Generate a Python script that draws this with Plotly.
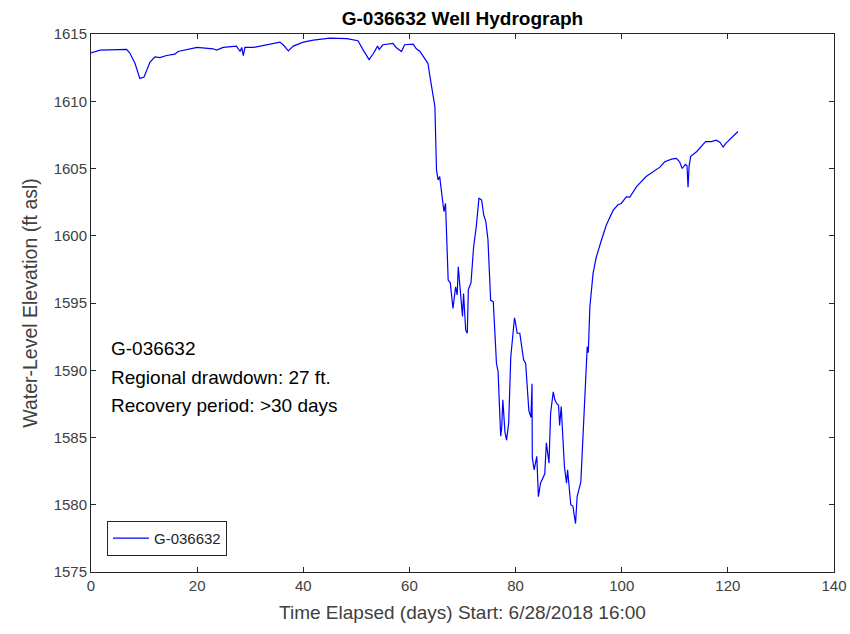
import plotly.graph_objects as go

days = [0, 1.7, 6.7, 7.3, 8.3, 9.2, 10.0, 11.1, 12.05, 13.0, 14.25, 15.8, 16.4, 18.6, 20.0,
        23.0, 23.7, 24.9, 27.4, 28.1, 28.4, 28.7, 29.0, 30.6, 33.1, 35.0, 35.6, 36.2, 37.2,
        38.1, 40.0, 41.9, 45.0, 48.2, 50.3, 51.3, 52.4, 53.2, 54.0, 54.3, 55.0, 56.9, 57.5,
        58.5, 59.1, 60.7, 61.3, 62.0, 62.6, 63.5, 63.8, 64.2, 64.8, 65.1, 65.4, 65.7, 66.3,
        66.5, 66.8, 67.3, 67.7, 68.2, 68.7, 69.0, 69.2, 69.5, 70.0, 70.2, 70.6, 70.9, 71.1,
        71.6, 72.1, 72.6, 73.1, 73.6, 74.0, 74.4, 74.8, 75.3, 75.8, 76.4, 76.7, 77.2, 77.4,
        77.6, 78.0, 78.3, 78.7, 79.1, 79.4, 79.8, 80.0, 80.3, 80.8, 81.1, 81.5, 81.9, 82.5,
        82.9, 83.1, 83.15, 83.5, 84.0, 84.3, 84.7, 85.2, 85.5, 85.8, 86.3, 86.6, 87.1, 87.4,
        87.8, 88.1, 88.3, 88.6, 89.2, 89.6, 89.8, 90.4, 90.8, 91.3, 91.6, 92.3, 92.7, 93.2,
        93.5, 93.7, 94.0, 94.6, 95.2, 96.2, 97.1, 98.4, 99.3, 99.9, 100.9, 101.5, 102.8,
        104.6, 106.2, 107.2, 108.1, 109.4, 110.3, 110.9, 111.4, 112.0, 112.3, 112.5, 112.7,
        113.0, 114.1, 115.8, 116.9, 117.8, 118.5, 119.1, 119.7, 121.9]

elevation = [1613.6, 1613.8, 1613.86, 1613.6, 1612.8, 1611.7, 1611.8, 1612.9, 1613.3, 1613.25,
             1613.4, 1613.5, 1613.7, 1613.9, 1614.0, 1613.9, 1613.8, 1614.0, 1614.1, 1613.7,
             1614.0, 1613.4, 1614.0, 1614.0, 1614.2, 1614.35, 1614.4, 1614.2, 1613.75, 1614.1,
             1614.4, 1614.55, 1614.7, 1614.65, 1614.5, 1613.8, 1613.1, 1613.55, 1614.1, 1613.85,
             1614.2, 1614.3, 1614.0, 1613.7, 1614.2, 1614.25, 1613.9, 1613.7, 1613.3, 1612.8,
             1612.0, 1611.1, 1609.6, 1604.9, 1604.15, 1604.4, 1602.2, 1601.8, 1602.4, 1596.7,
             1596.5, 1594.6, 1596.2, 1595.6, 1597.7, 1596.2, 1594.0, 1595.7, 1593.0, 1592.75,
             1596.0, 1596.5, 1599.2, 1600.7, 1602.8, 1602.65, 1601.55, 1601.05, 1599.7, 1595.2,
             1595.1, 1590.5, 1589.9, 1585.1, 1585.8, 1587.8, 1585.4, 1584.8, 1586.05, 1591.0,
             1592.5, 1593.9, 1593.5, 1592.75, 1592.75, 1591.9, 1590.8, 1590.5, 1587.0, 1586.5,
             1589.0, 1583.5, 1582.6, 1583.6, 1580.6, 1581.6, 1582.0, 1582.3, 1584.6, 1583.1,
             1586.8, 1588.4, 1587.8, 1587.5, 1587.4, 1585.9, 1587.3, 1582.85, 1581.6, 1582.6,
             1580.0, 1579.9, 1578.6, 1580.6, 1581.7, 1585.3, 1589.8, 1591.75, 1591.3, 1594.7,
             1597.2, 1598.4, 1599.7, 1600.8, 1601.9, 1602.3, 1602.4, 1602.9, 1602.85, 1603.65,
             1604.4, 1604.8, 1605.1, 1605.5, 1605.7, 1605.75, 1605.5, 1605.0, 1605.3, 1605.2,
             1603.6, 1605.2, 1605.9, 1606.25, 1607.0, 1607.0, 1607.1, 1606.95, 1606.6, 1606.9,
             1607.75]

x_ticks = [0, 20, 40, 60, 80, 100, 120, 140]
y_ticks = [1575, 1580, 1585, 1590, 1595, 1600, 1605, 1610, 1615]

series_name = "G-036632"
note_lines = ["G-036632", "Regional drawdown: 27 ft.", "Recovery period: >30 days"]
note_y = [1591.6, 1589.45, 1587.35]

axis_color = "#262626"
font_family = "Liberation Sans, Arial, sans-serif"

FIG_W, FIG_H = 850, 634

fig = go.Figure()
fig.add_trace(go.Scatter(x=days, y=elevation, mode="lines", name=series_name,
                         line=dict(color="#0000FF", width=1.2)))

axis_common = dict(showline=True, linecolor=axis_color, linewidth=1, mirror="ticks",
                   ticks="inside", ticklen=5, tickcolor=axis_color, showgrid=False,
                   zeroline=False, automargin=False,
                   tickfont=dict(family=font_family, size=15, color="#404040"))

fig.update_layout(
    width=FIG_W, height=FIG_H,
    margin=dict(l=91, r=16, t=34, b=62, autoexpand=False),
    paper_bgcolor="white", plot_bgcolor="white",
    title=dict(text="<b>G-036632 Well Hydrograph</b>", x=(91 + 834) / 2 / FIG_W,
               xanchor="center", y=1 - 18 / FIG_H, yanchor="middle", yref="container",
               font=dict(family=font_family, size=19, color="#000000")),
    xaxis=dict(range=[0, 140], tickvals=x_ticks, ticktext=[str(v) for v in x_ticks],
               title=dict(text="Time Elapsed (days) Start: 6/28/2018 16:00", standoff=12,
                          font=dict(family=font_family, size=19, color="#404040")),
               **axis_common),
    yaxis=dict(range=[1575, 1615], tickvals=y_ticks, ticktext=[str(v) for v in y_ticks],
               title=dict(text="Water-Level Elevation (ft asl)", standoff=10,
                          font=dict(family=font_family, size=19.5, color="#404040")),
               **axis_common),
    legend=dict(x=0.0215, y=0.03, xanchor="left", yanchor="bottom",
                bordercolor=axis_color, borderwidth=1, bgcolor="white",
                font=dict(family=font_family, size=15, color="#262626"),
                itemwidth=36, tracegroupgap=0),
    showlegend=True,
)

for line_text, ly in zip(note_lines, note_y):
    fig.add_annotation(x=0.024, y=ly, xref="x domain", yref="y", xanchor="left",
                       yanchor="middle", text=line_text, showarrow=False, align="left",
                       font=dict(family=font_family, size=19, color="#000000"))

# remove the browser's default 8px body margin so the figure fills the window exactly
fig.write_html("out.html",
               config={"displayModeBar": False},
               post_script="document.body.style.margin='0';document.body.style.overflow='hidden';")
